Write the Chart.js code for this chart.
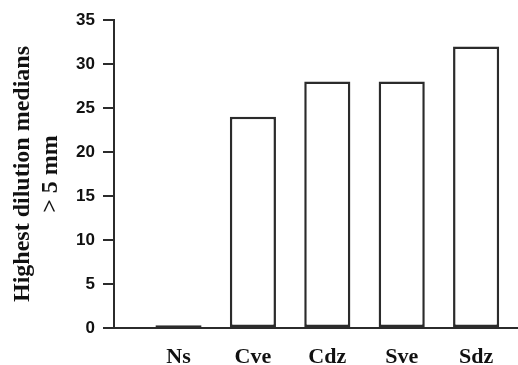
<!DOCTYPE html>
<html>
<head>
<meta charset="utf-8">
<script src="https://cdn.jsdelivr.net/npm/chart.js@4/dist/chart.umd.min.js"></script>
<style>
  html, body { margin: 0; padding: 0; background: #fff; }
  #wrap { width: 518px; height: 365px; }
</style>
</head>
<body>
<div id="wrap"><canvas id="chart"></canvas></div>
<script>
// data
const categories = ['Ns', 'Cve', 'Cdz', 'Sve', 'Sdz'];
const medians = [0.3, 24, 28, 28, 32];
const yTicks = [0, 5, 10, 15, 20, 25, 30, 35];

const ink = '#2b2b2b';

const ctx = document.getElementById('chart').getContext('2d');
const chart = new Chart(ctx, {
  type: 'bar',
  data: {
    datasets: [{
      data: medians.map((v, i) => ({ x: i, y: v })),
      backgroundColor: '#ffffff',
      borderColor: ink,
      borderWidth: 2.5,
      borderSkipped: false,
      barPercentage: 0.62,
      categoryPercentage: 1
    }]
  },
  options: {
    responsive: true,
    maintainAspectRatio: false,
    animation: false,
    layout: { padding: { top: 20, left: 0, right: 0, bottom: 0 } },
    plugins: {
      legend: { display: false },
      tooltip: { enabled: false }
    },
    scales: {
      x: {
        type: 'linear',
        offset: false,
        min: -0.867,
        max: 4.563,
        grid: { display: false, offset: false },
        border: { display: true, color: ink, width: 2 },
        afterBuildTicks: (scale) => {
          scale.ticks = categories.map((c, i) => ({ value: i }));
        },
        afterFit: (scale) => { scale.height = 37; },
        ticks: {
          autoSkip: false,
          maxRotation: 0,
          padding: 8,
          color: '#111',
          font: { family: 'Liberation Serif', weight: 'bold', size: 22 },
          callback: (v) => categories[v]
        }
      },
      y: {
        min: 0,
        max: 35,
        afterBuildTicks: (scale) => {
          scale.ticks = yTicks.map(v => ({ value: v }));
        },
        afterFit: (scale) => { scale.width = 114; },
        grid: {
          drawOnChartArea: false,
          drawTicks: true,
          tickLength: 11,
          color: ink,
          lineWidth: 2
        },
        border: { display: true, color: ink, width: 2 },
        ticks: {
          padding: 8,
          color: '#111',
          font: { family: 'Liberation Sans', weight: 'bold', size: 17 }
        },
        title: {
          display: true,
          text: ['Highest dilution medians', '> 5 mm'],
          color: '#111',
          padding: { top: 8, bottom: 0 },
          font: { family: 'Liberation Serif', weight: 'bold', size: 24, lineHeight: 1.2 }
        }
      }
    }
  }
});
</script>
</body>
</html>
